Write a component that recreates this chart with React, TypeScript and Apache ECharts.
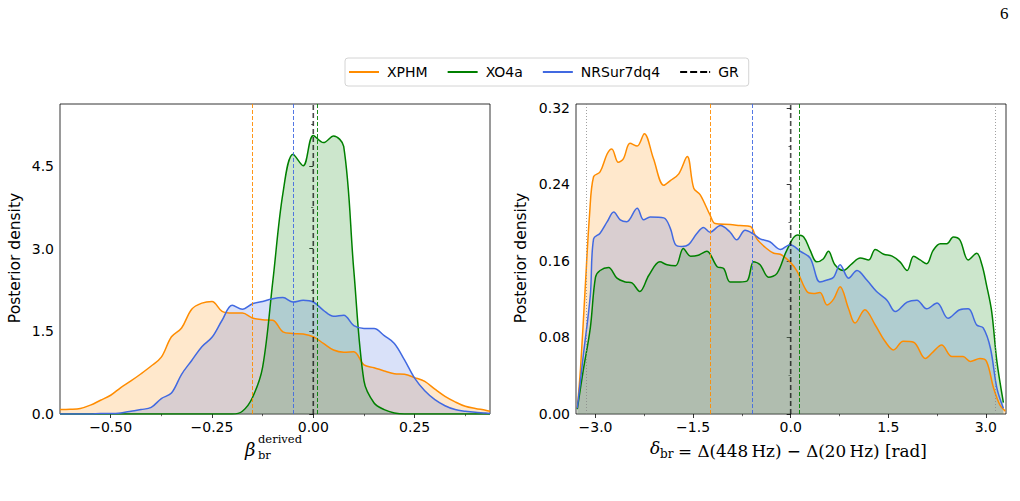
import React, { useEffect, useRef } from "react";
import * as echarts from "echarts";

// Model names and their line colours
const models = ["XPHM", "XO4a", "NRSur7dq4"];
const modelColors = ["#ff8c00", "#008000", "#4169e1"];

// Left panel: beta_br^derived posterior densities on a common grid
const betaGrid = [
  -0.625, -0.6, -0.575, -0.55, -0.525, -0.5, -0.475, -0.45, -0.425, -0.4, -0.375,
  -0.35, -0.325, -0.3, -0.275, -0.25, -0.225, -0.2, -0.175, -0.15, -0.125, -0.1,
  -0.075, -0.05, -0.025, 0, 0.025, 0.05, 0.075, 0.1, 0.125, 0.15, 0.175, 0.2,
  0.225, 0.25, 0.275, 0.3, 0.325, 0.35, 0.375, 0.4, 0.425, 0.436,
];
const betaXPHM = [
  0.08, 0.085, 0.1, 0.16, 0.25, 0.34, 0.48, 0.6, 0.73, 0.87, 1.03, 1.4, 1.56, 1.9,
  2.01, 2.04, 1.86, 1.83, 1.83, 1.74, 1.71, 1.7, 1.49, 1.46, 1.45, 1.4, 1.28, 1.16,
  1.12, 1.13, 0.89, 0.84, 0.78, 0.73, 0.72, 0.66, 0.59, 0.45, 0.32, 0.22, 0.14, 0.1,
  0.07, 0.05,
];
const betaXO4a = [
  0, 0, 0, 0, 0, 0, 0, 0, 0, 0, 0, 0, 0, 0, 0, 0, 0, 0, 0.05, 0.3, 0.85, 2.4, 4.0,
  4.71, 4.5, 5.05, 4.92, 5.04, 4.85, 2.6, 0.6, 0.2, 0.08, 0.02, 0, 0, 0, 0, 0, 0, 0,
  0, 0, 0,
];
const betaNRSur = [
  0, 0, 0, 0, 0.01, 0.01, 0.02, 0.05, 0.08, 0.12, 0.28, 0.38, 0.72, 0.97, 1.22, 1.39,
  1.7, 1.97, 1.9, 2.0, 2.04, 2.09, 2.11, 2.03, 2.06, 2.03, 1.88, 1.77, 1.79, 1.6,
  1.55, 1.55, 1.42, 1.28, 0.98, 0.65, 0.42, 0.26, 0.15, 0.08, 0.05, 0.03, 0.02, 0.01,
];
const betaMedians = [-0.146, 0.005, -0.05];

// Right panel: delta_br posterior densities as [delta, density]
const deltaXPHM = [
  [-3.28, 0.006], [-3.23, 0.048], [-3.16, 0.13], [-3.09, 0.21], [-3.03, 0.248],
  [-2.93, 0.253], [-2.82, 0.272], [-2.75, 0.277], [-2.65, 0.263], [-2.57, 0.267],
  [-2.47, 0.283], [-2.36, 0.28], [-2.25, 0.293], [-2.11, 0.267], [-1.95, 0.239],
  [-1.85, 0.244], [-1.72, 0.251], [-1.59, 0.269], [-1.49, 0.236], [-1.39, 0.229],
  [-1.24, 0.208], [-1.16, 0.199], [-0.93, 0.198], [-0.78, 0.197], [-0.62, 0.196],
  [-0.52, 0.183], [-0.37, 0.173], [-0.26, 0.168], [-0.16, 0.167], [-0.01, 0.159],
  [0.1, 0.149], [0.25, 0.128], [0.35, 0.126], [0.45, 0.127], [0.56, 0.114],
  [0.66, 0.12], [0.76, 0.133], [0.89, 0.11], [0.99, 0.095], [1.14, 0.109],
  [1.3, 0.093], [1.45, 0.076], [1.58, 0.067], [1.73, 0.076], [1.89, 0.075],
  [2.07, 0.058], [2.19, 0.065], [2.32, 0.072], [2.48, 0.06], [2.65, 0.06],
  [2.76, 0.055], [2.91, 0.058], [3.01, 0.055], [3.12, 0.027], [3.22, 0.009],
  [3.3, 0.003],
];
const deltaXO4a = [
  [-3.28, 0.005], [-3.19, 0.045], [-3.08, 0.09], [-3.0, 0.143], [-2.93, 0.15],
  [-2.8, 0.153], [-2.67, 0.142], [-2.54, 0.138], [-2.44, 0.137], [-2.32, 0.128],
  [-2.18, 0.145], [-2.01, 0.159], [-1.9, 0.156], [-1.77, 0.155], [-1.65, 0.173],
  [-1.54, 0.165], [-1.42, 0.166], [-1.29, 0.17], [-1.13, 0.154], [-1.03, 0.152],
  [-0.93, 0.138], [-0.78, 0.138], [-0.67, 0.139], [-0.57, 0.159], [-0.47, 0.156],
  [-0.34, 0.143], [-0.21, 0.147], [-0.06, 0.171], [0.1, 0.187], [0.2, 0.185],
  [0.3, 0.171], [0.4, 0.159], [0.5, 0.162], [0.58, 0.17], [0.68, 0.156],
  [0.81, 0.15], [0.94, 0.157], [1.07, 0.163], [1.2, 0.161], [1.3, 0.172],
  [1.43, 0.167], [1.56, 0.165], [1.68, 0.159], [1.79, 0.15], [1.89, 0.165],
  [1.99, 0.161], [2.09, 0.157], [2.19, 0.171], [2.3, 0.178], [2.4, 0.178],
  [2.5, 0.185], [2.6, 0.182], [2.73, 0.161], [2.86, 0.168], [2.94, 0.156],
  [3.01, 0.135], [3.09, 0.107], [3.17, 0.055], [3.27, 0.012],
];
const deltaNRSur = [
  [-3.28, 0.006], [-3.19, 0.06], [-3.08, 0.124], [-3.03, 0.183], [-2.93, 0.189],
  [-2.82, 0.201], [-2.72, 0.211], [-2.62, 0.203], [-2.52, 0.201], [-2.36, 0.215],
  [-2.26, 0.203], [-2.16, 0.206], [-1.95, 0.205], [-1.85, 0.194], [-1.77, 0.177],
  [-1.67, 0.175], [-1.57, 0.177], [-1.44, 0.189], [-1.34, 0.195], [-1.24, 0.19],
  [-1.08, 0.197], [-0.93, 0.19], [-0.83, 0.182], [-0.7, 0.192], [-0.57, 0.188],
  [-0.47, 0.183], [-0.32, 0.18], [-0.16, 0.172], [-0.01, 0.177], [0.15, 0.17],
  [0.3, 0.163], [0.45, 0.138], [0.56, 0.14], [0.66, 0.143], [0.76, 0.156],
  [0.89, 0.142], [1.02, 0.15], [1.17, 0.14], [1.32, 0.128], [1.48, 0.119],
  [1.61, 0.107], [1.79, 0.117], [1.94, 0.119], [2.09, 0.11], [2.25, 0.116],
  [2.42, 0.1], [2.6, 0.109], [2.73, 0.11], [2.86, 0.093], [2.96, 0.09],
  [3.07, 0.069], [3.17, 0.027], [3.27, 0.006],
];
const deltaMedians = [-1.226, 0.13, -0.587];

// Axis ranges and ticks
const betaRange = [-0.625, 0.436];
const betaDensityMax = 5.62;
const betaTicks = [-0.5, -0.25, 0, 0.25];
const betaMinorTicks = [-0.375, -0.125, 0.125, 0.375];
const betaDensityTicks = [0, 1.5, 3, 4.5];
const betaDensityMinor = [0.75, 2.25, 3.75, 5.25];

const deltaRange = [-3.3, 3.31];
const deltaDensityMax = 0.324;
const deltaTicks = [-3, -1.5, 0, 1.5, 3];
const deltaMinorTicks = [-2.25, -0.75, 0.75, 2.25];
const deltaDensityTicks = [0, 0.08, 0.16, 0.24, 0.32];
const deltaDensityMinor = [0.04, 0.12, 0.2, 0.28];

const SANS = "DejaVu Sans";
const SERIF = "DejaVu Serif";

const fmt = (v: number, digits: number) =>
  (v < 0 ? "\u2212" : "") + Math.abs(v).toFixed(digits);

function mainAxis(gridIndex: number, range: number[], ticks: number[], digits: number, position: string) {
  return {
    type: "value",
    gridIndex,
    position,
    min: range[0],
    max: range[1],
    axisLine: { show: false },
    axisTick: { show: true, length: 4, customValues: ticks, lineStyle: { color: "#000", width: 0.8 } },
    axisLabel: {
      show: true,
      customValues: ticks,
      formatter: (v: number) => fmt(v, digits),
      margin: 6,
      fontFamily: SANS,
      fontSize: 14,
      color: "#000",
    },
    splitLine: { show: false },
  };
}

function minorAxis(gridIndex: number, range: number[], ticks: number[], position: string) {
  return {
    type: "value",
    gridIndex,
    position,
    min: range[0],
    max: range[1],
    axisLine: { show: false },
    axisTick: { show: true, length: 2.2, customValues: ticks, lineStyle: { color: "#000", width: 0.6 } },
    axisLabel: { show: false },
    splitLine: { show: false },
  };
}

function medianLine(value: number, color: string) {
  return {
    silent: true,
    symbol: ["none", "none"],
    label: { show: false },
    animation: false,
    lineStyle: { type: [4, 2], width: 1, color, opacity: 0.9 },
    data: [{ xAxis: value }],
  };
}

function densitySeries(name: string, color: string, data: number[][], axis: number, median: number, extraMarks: any[] = []) {
  const ml: any = medianLine(median, color);
  ml.data = ml.data.concat(extraMarks);
  return {
    type: "line",
    name,
    xAxisIndex: axis,
    yAxisIndex: axis,
    data,
    smooth: 0.35,
    symbol: "none",
    color,
    lineStyle: { width: 1.5, color },
    areaStyle: { color, opacity: 0.2 },
    markLine: ml,
  };
}

function grSeries(axis: number, yMax: number) {
  return {
    type: "line",
    name: "GR",
    xAxisIndex: axis,
    yAxisIndex: axis,
    data: [
      [0, 0],
      [0, yMax],
    ],
    symbol: "none",
    color: "#000",
    lineStyle: { width: 1.6, color: "rgba(0,0,0,0.7)", type: [5, 3] },
    z: 3,
  };
}

export default function App() {
  const ref = useRef<HTMLDivElement>(null);

  useEffect(() => {
    if (!ref.current) return;
    const chart = echarts.init(ref.current, null, { renderer: "svg" });

    const betaSets = [betaXPHM, betaXO4a, betaNRSur].map((ys) => ys.map((y, i) => [betaGrid[i], y]));
    const deltaSets = [deltaXPHM, deltaXO4a, deltaNRSur];
    const piMarks = [-Math.PI, Math.PI].map((v) => ({
      xAxis: v,
      lineStyle: { type: [1, 2], width: 0.8, color: "#888", opacity: 1 },
    }));

    const series: any[] = [];
    models.forEach((m, k) => {
      series.push(densitySeries(m, modelColors[k], betaSets[k], 0, betaMedians[k]));
    });
    models.forEach((m, k) => {
      series.push(densitySeries(m, modelColors[k], deltaSets[k], 2, deltaMedians[k], k === 1 ? piMarks : []));
    });
    series.push(grSeries(0, betaDensityMax));
    series.push(grSeries(2, deltaDensityMax));

    const label = (text: string, x: number, y: number, size: number, extra: any = {}) => ({
      type: "text",
      x,
      y,
      silent: true,
      style: {
        text,
        font: `${extra.italic ? "italic " : ""}${size}px "${extra.family || SERIF}"`,
        fill: "#000",
        align: extra.align || "left",
        verticalAlign: "middle",
      },
      rotation: extra.rotation || 0,
    });

    const dashIcon = "path://M0,0h7v2h-7z M10,0h7v2h-7z M20,0h7v2h-7z M29,0h1v2h-1z";

    chart.setOption({
      animation: false,
      backgroundColor: "#fff",
      grid: [
        { left: 60, top: 104, width: 430, height: 310, show: true, borderColor: "#000", borderWidth: 0.8 },
        { left: 576, top: 104, width: 430, height: 310, show: true, borderColor: "#000", borderWidth: 0.8 },
      ],
      xAxis: [
        mainAxis(0, betaRange, betaTicks, 2, "bottom"),
        minorAxis(0, betaRange, betaMinorTicks, "bottom"),
        mainAxis(1, deltaRange, deltaTicks, 1, "bottom"),
        minorAxis(1, deltaRange, deltaMinorTicks, "bottom"),
      ],
      yAxis: [
        mainAxis(0, [0, betaDensityMax], betaDensityTicks, 1, "left"),
        minorAxis(0, [0, betaDensityMax], betaDensityMinor, "left"),
        mainAxis(1, [0, deltaDensityMax], deltaDensityTicks, 2, "left"),
        minorAxis(1, [0, deltaDensityMax], deltaDensityMinor, "left"),
      ],
      legend: {
        data: [
          ...models.map((name) => ({ name, icon: "rect" })),
          { name: "GR", icon: dashIcon },
        ],
        left: 345,
        top: 58,
        itemWidth: 30,
        itemHeight: 2,
        itemGap: 20,
        padding: [7, 10, 7, 4],
        borderColor: "#d4d4d4",
        borderWidth: 1,
        borderRadius: 3,
        backgroundColor: "#fff",
        textStyle: { fontFamily: SANS, fontSize: 14, color: "#000", padding: [0, 0, 0, 3] },
      },
      graphic: [
        label("6", 1000, 13, 17, { family: "Liberation Serif" }),
        label("Posterior density", 15, 258, 15.5, { family: SANS, align: "center", rotation: Math.PI / 2 }),
        label("Posterior density", 521, 258, 15.5, { family: SANS, align: "center", rotation: Math.PI / 2 }),
        label("\u03b2", 245, 449, 18, { italic: true }),
        label("derived", 258, 439, 11.5),
        label("br", 258, 455, 11.5),
        label("\u03b4", 650, 448, 17, { italic: true }),
        label("br", 660, 454, 12),
        label("= \u0394(448\u2009Hz) \u2212 \u0394(20\u2009Hz) [rad]", 678, 451, 16.8),
      ],
      series,
    });

    return () => chart.dispose();
  }, []);

  return (
    <div
      ref={ref}
      style={{ position: "fixed", left: 0, top: 0, width: 1020, height: 501, background: "#fff" }}
    />
  );
}
